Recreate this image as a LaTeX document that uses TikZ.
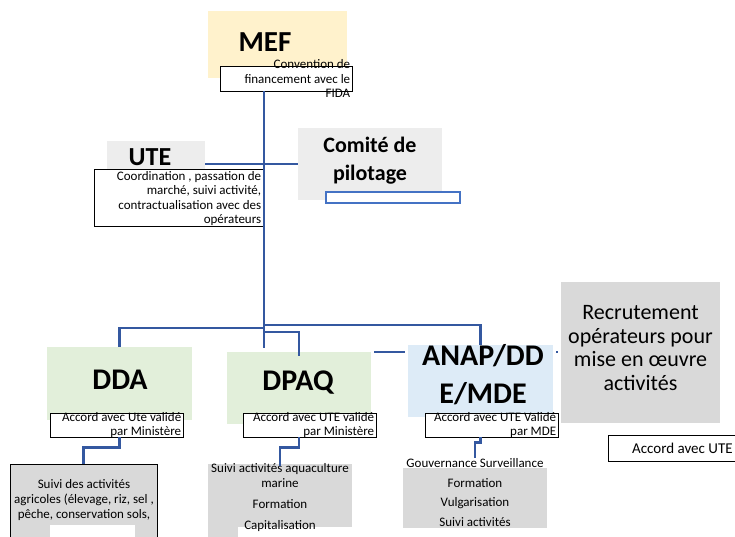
\documentclass[tikz,border=0pt]{standalone}
\usepackage{fontspec}
\setmainfont{Carlito}
\definecolor{linkblue}{RGB}{52,88,160}
\definecolor{frameblue}{RGB}{68,114,196}
\definecolor{mefyellow}{RGB}{255,242,204}
\definecolor{lightgray}{RGB}{237,237,237}
\definecolor{midgray}{RGB}{217,217,217}
\definecolor{dirgreen}{RGB}{226,239,218}
\definecolor{dirblue}{RGB}{221,235,247}
\tikzset{
  link/.style={draw=linkblue,line width=2.2pt},
  panel/.style={draw=none,inner sep=0pt},
  note/.style={draw=black,fill=white,line width=0.8pt,inner sep=0pt},
  notetxt/.style={font=\fontsize{13}{14.5}\selectfont,align=right,inner sep=0pt},
  listtxt/.style={font=\fontsize{13}{15}\selectfont,align=center,inner sep=0pt},
  headtxt/.style={font=\bfseries\fontsize{30}{38}\selectfont,align=center,inner sep=0pt},
}
\begin{document}
\begin{tikzpicture}[x=1pt,y=-1pt]
\useasboundingbox (0,0) rectangle (735,537);
\clip (0,0) rectangle (735,537);
% top of the chart
\node[panel,fill=mefyellow,minimum width=139,minimum height=67] (mef) at (277.5,44.5) {};
\node[headtxt,font=\bfseries\fontsize{29}{30}\selectfont] (meft) at (265,42) {MEF};
\node[note,minimum width=132,minimum height=25] (conv) at (286,78.5) {};
\node[notetxt,anchor=east] (convt) at ([xshift=-2]conv.east) {Convention de\\financement avec le\\FIDA};

\node[panel,fill=lightgray,minimum width=98,minimum height=46] (ute) at (156,164) {};
\node[headtxt,font=\bfseries\fontsize{26}{30}\selectfont,anchor=base] (utet) at (150,166) {UTE};
\node[note,minimum width=169,minimum height=57] (utetxt) at (178.5,197.5) {};
\node[notetxt,anchor=east] (utetxtt) at ([xshift=-2,yshift=-1]utetxt.east) {Coordination , passation de\\marché, suivi activité,\\contractualisation avec des\\opérateurs};

\node[panel,fill=lightgray,minimum width=144,minimum height=72] (comite) at (370,164) {};
\node[headtxt,font=\bfseries\fontsize{22}{28}\selectfont] (comitet) at (370,161) {Comité de\\pilotage};
\node[panel,draw=frameblue,fill=white,line width=1.8pt,minimum width=134,minimum height=11] (comitebar) at (393,197.5) {};

% directions
\node[panel,fill=dirgreen,minimum width=145,minimum height=73] (dda) at (119.5,383.5) {};
\node[headtxt] (ddat) at (120,380) {DDA};
\node[note,minimum width=133,minimum height=24] (ddaacc) at (116.5,425) {};
\node[notetxt,anchor=east] at ([xshift=-2]ddaacc.east) {Accord avec Ute validé\\par Ministère};

\node[panel,fill=dirgreen,minimum width=144,minimum height=72] (dpaq) at (299,388) {};
\node[headtxt] (dpaqt) at (298,383) {DPAQ};
\node[note,minimum width=133,minimum height=24] (dpaqacc) at (309.5,425) {};
\node[notetxt,anchor=east] at ([xshift=-2]dpaqacc.east) {Accord avec UTE validé\\par Ministère};

\node[panel,fill=dirblue,minimum width=145,minimum height=72] (anap) at (480.5,381) {};
\node[headtxt] (anapt) at (483,375) {ANAP/DD\\E/MDE};
\node[note,minimum width=133,minimum height=24] (anapacc) at (491.5,425) {};
\node[notetxt,anchor=east] at ([xshift=-2]anapacc.east) {Accord avec UTE Validé\\par MDE};

\node[panel,fill=midgray,minimum width=159,minimum height=141] (recru) at (640.5,352.5) {};
\node[headtxt,font=\fontsize{22}{23.5}\selectfont] (recrut) at (640.5,348) {Recrutement\\opérateurs pour\\mise en œuvre\\activités};
\node[panel,fill=white,minimum width=200,minimum height=25] (recruacc) at (709,448.5) {};
\draw[line width=0.8pt] (recruacc.north east) -- (recruacc.north west) -- (recruacc.south west) -- (recruacc.south east);
\node[listtxt,font=\fontsize{15}{16}\selectfont,anchor=west] at (632,448.5) {Accord avec UTE};

% activities
\node[panel,draw=black,line width=0.8pt,fill=midgray,minimum width=147,minimum height=81] (ddasuivi) at (83.5,504.5) {};
\node[panel,fill=midgray,minimum width=144,minimum height=73] (dpaqsuivi) at (280,500.5) {};
\node[panel,fill=midgray,minimum width=144,minimum height=60] (anapsuivi) at (475,498) {};
\fill[white] (50,525) rectangle (135,540);
\fill[white] (238,527) rectangle (352,540);
\fill[white] (435,528) rectangle (547,540);
\node[listtxt] (ddalist) at (84,500) {Suivi des activités\\agricoles (élevage, riz, sel ,\\pêche, conservation sols,};
\node[listtxt] (dpaqlist) at (280,498) {Suivi activités aquaculture\\marine\\[6pt]Formation\\[6pt]Capitalisation};
\node[listtxt,font=\fontsize{13}{19.5}\selectfont] (anaplist) at (475,492.5) {Gouvernance Surveillance\\Formation\\Vulgarisation\\Suivi activités};

% connectors
\coordinate (split) at (264,348);
\coordinate (ja) at (264,325);
\coordinate (jb) at (264,328);
\coordinate (jc) at (264,332);
\draw[link] (conv.south -| split) -- (split);
\draw[link] (ute.east) -- (ute.east -| comite.west);
\draw[link] (ja) -| (anap.north);
\draw[link] (jb) -| (dda.north);
\draw[link] (jc) -| ([yshift=-4]dpaq.north);
\draw[link] (dpaq.north east) ++(3,0) -- ++(31,0);
\draw[link] (anap.north east) ++(3,7) -- ++(2,0);
\draw[link] (ddaacc.south -| dda.south) -- ++(0,10) -| (ddasuivi.north);
\draw[link] (dpaqacc.south -| dpaq.south) -- ++(0,10) -| ([yshift=-2]dpaqsuivi.north);
\draw[link] (anapacc.south -| anap.south) -- ++(0,5) -| (anaplist.north);
\end{tikzpicture}
\end{document}
